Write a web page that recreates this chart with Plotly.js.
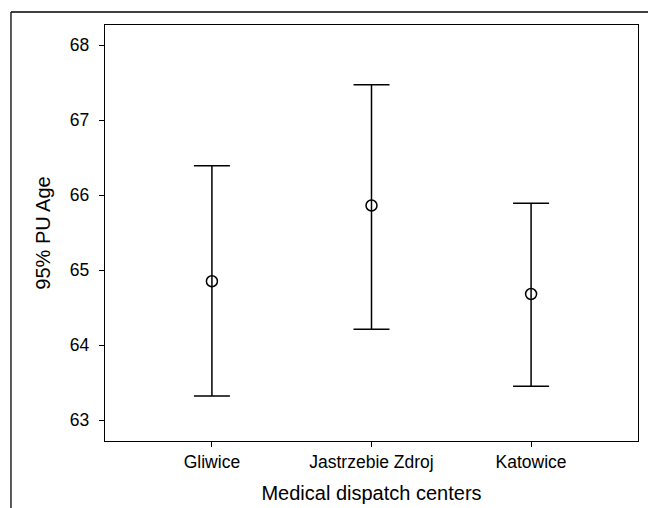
<!DOCTYPE html>
<html>
<head>
<meta charset="utf-8">
<script src="https://cdn.plot.ly/plotly-3.0.1.min.js"></script>
<style>html,body{margin:0;padding:0;background:#fff;}#chart{width:648px;height:508px;}</style>
</head>
<body>
<div id="chart"></div>
<script>
const centers = ["Gliwice", "Jastrzebie Zdroj", "Katowice"];
const meanAge = [64.85, 65.86, 64.68];
const upperCI = [66.39, 67.47, 65.89];
const lowerCI = [63.32, 64.21, 63.45];
const yTicks = [63, 64, 65, 66, 67, 68];

const errPlus = meanAge.map((m, i) => upperCI[i] - m);
const errMinus = meanAge.map((m, i) => m - lowerCI[i]);

const trace = {
  type: "scatter",
  mode: "markers",
  x: centers,
  y: meanAge,
  marker: {symbol: "circle-open", size: 11, color: "#000", line: {width: 1.5, color: "#000"}},
  error_y: {type: "data", symmetric: false, array: errPlus, arrayminus: errMinus,
            color: "#000", thickness: 1.5, width: 18},
  hoverinfo: "none"
};

const font = {family: "Liberation Sans, Arial, sans-serif", color: "#000"};

const layout = {
  width: 648, height: 508,
  margin: {l: 105, r: 10, t: 25, b: 67},
  paper_bgcolor: "#fff", plot_bgcolor: "#fff",
  showlegend: false,
  font: font,
  xaxis: {
    type: "category",
    range: [-0.67, 2.67],
    showline: true, mirror: true, linecolor: "#000", linewidth: 1.3,
    ticks: "outside", ticklen: 5, tickcolor: "#000", tickwidth: 1,
    showgrid: false, zeroline: false,
    tickfont: {family: font.family, size: 17.5, color: "#000"},
    title: {text: "Medical dispatch centers", font: {family: font.family, size: 20, color: "#000"}, standoff: 14}
  },
  yaxis: {
    range: [62.72, 68.267],
    tickvals: yTicks, ticktext: yTicks.map(String),
    showline: true, mirror: true, linecolor: "#000", linewidth: 1.3,
    ticks: "outside", ticklen: 5, tickcolor: "#000", tickwidth: 1,
    ticklabelstandoff: 6,
    showgrid: false, zeroline: false,
    tickfont: {family: font.family, size: 17.5, color: "#000"},
    title: {text: "95% PU Age", font: {family: font.family, size: 20, color: "#000"}, standoff: 13}
  },
  shapes: [
    {type: "line", xref: "paper", yref: "paper", x0: -0.1764, x1: -0.1764, y0: -0.2, y1: 1.0313,
     line: {color: "#000", width: 1.3}},
    {type: "line", xref: "paper", yref: "paper", x0: -0.1764, x1: 1.2, y0: 1.0313, y1: 1.0313,
     line: {color: "#000", width: 1.3}}
  ]
};

Plotly.newPlot("chart", [trace], layout, {staticPlot: true, displayModeBar: false});
</script>
</body>
</html>
